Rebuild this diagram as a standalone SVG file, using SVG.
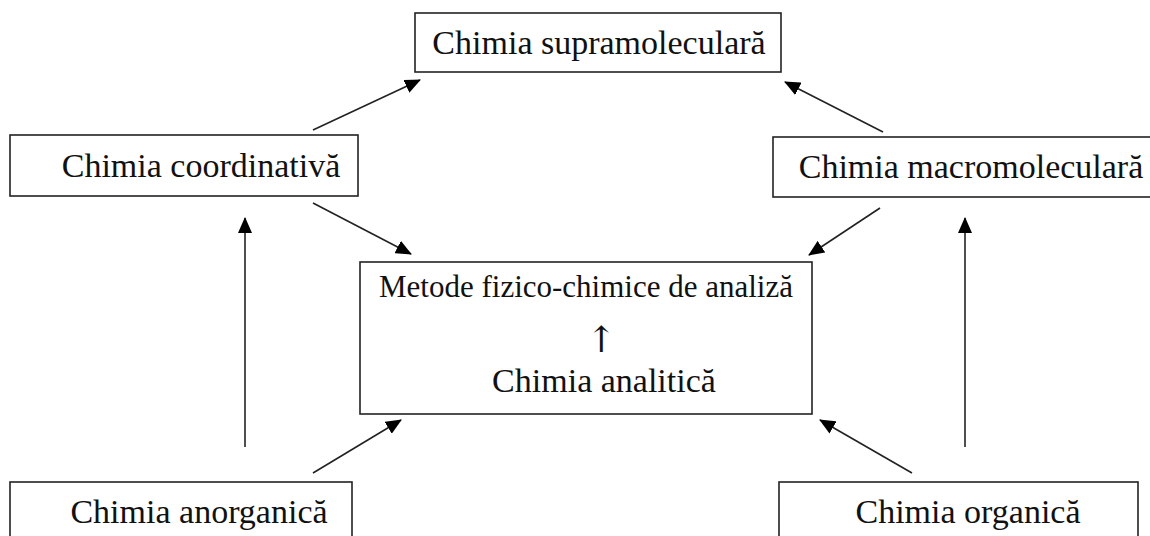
<svg xmlns="http://www.w3.org/2000/svg" width="1150" height="536" viewBox="0 0 1150 536">
  <style>
    .box { fill: #fff; stroke: #222; stroke-width: 1.6; }
    .lbl { font-family: "Liberation Serif", "Times New Roman", serif; font-size: 34px; fill: #111; text-anchor: middle; }
    .up { font-family: "DejaVu Serif", "Liberation Serif", serif; font-size: 36px; fill: #111; text-anchor: middle; }
    .edge { stroke: #222; stroke-width: 1.6; fill: none; marker-end: url(#head); }
  </style>
  <defs>
    <marker id="head" markerUnits="userSpaceOnUse" markerWidth="16" markerHeight="14" refX="15" refY="7" orient="auto">
      <path d="M0,0 L16,7 L0,14 Z" fill="#000"/>
    </marker>
  </defs>
  <rect width="1150" height="536" fill="#fff"/>

  <g id="connectors">
    <line class="edge" x1="313" y1="130" x2="420" y2="80"/>
    <line class="edge" x1="883" y1="132" x2="785" y2="82"/>
    <line class="edge" x1="313" y1="203" x2="411" y2="254"/>
    <line class="edge" x1="880" y1="208" x2="809" y2="255"/>
    <line class="edge" x1="245" y1="447" x2="245" y2="218"/>
    <line class="edge" x1="965" y1="447" x2="965" y2="218"/>
    <line class="edge" x1="313" y1="473" x2="401" y2="420"/>
    <line class="edge" x1="912" y1="473" x2="820" y2="420"/>
  </g>

  <g id="supramoleculara">
    <rect class="box" x="415" y="13" width="366" height="59"/>
    <text class="lbl" x="599" y="54">Chimia supramoleculară</text>
  </g>

  <g id="coordinativa">
    <rect class="box" x="10" y="135" width="348" height="61"/>
    <text class="lbl" x="201" y="177">Chimia coordinativă</text>
  </g>

  <g id="macromoleculara">
    <rect class="box" x="773" y="137" width="390" height="60"/>
    <text class="lbl" x="971" y="178">Chimia macromoleculară</text>
  </g>

  <g id="analitica">
    <rect class="box" x="360" y="262" width="452" height="152"/>
    <text class="lbl" x="586" y="297" style="font-size:31px">Metode fizico-chimice de analiză</text>
    <text class="up" x="601" y="352">↑</text>
    <text class="lbl" x="604" y="392">Chimia analitică</text>
  </g>

  <g id="anorganica">
    <rect class="box" x="10" y="482" width="342" height="70"/>
    <text class="lbl" x="199" y="523">Chimia anorganică</text>
  </g>

  <g id="organica">
    <rect class="box" x="779" y="482" width="359" height="70"/>
    <text class="lbl" x="968" y="523">Chimia organică</text>
  </g>
</svg>
